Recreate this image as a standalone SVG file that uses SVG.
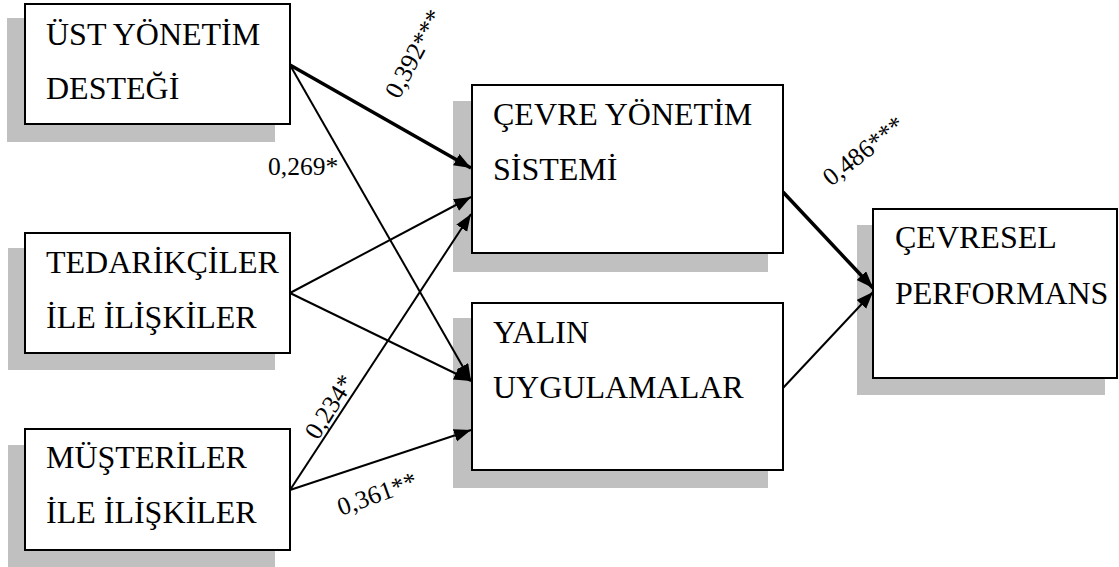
<svg xmlns="http://www.w3.org/2000/svg" width="1119" height="567" viewBox="0 0 1119 567">
  <style>
    .shadow { fill: #c0c0c0; stroke: none; }
    .box { fill: #ffffff; stroke: #000000; stroke-width: 2; }
    .lbl { font-family: "Liberation Serif", serif; font-size: 32px; fill: #000000; }
    .coef { font-family: "Liberation Serif", serif; font-size: 25.5px; fill: #000000; }
    .thin { stroke: #000000; stroke-width: 2; fill: none; marker-end: url(#arrow); }
    .thick { stroke: #000000; stroke-width: 3.5; fill: none; marker-end: url(#arrow); }
  </style>
  <defs>
    <marker id="arrow" markerUnits="userSpaceOnUse" markerWidth="19" markerHeight="14" refX="17" refY="6.5" orient="auto">
      <path d="M0,0 L17,6.5 L0,13 Z" fill="#000000"/>
    </marker>
  </defs>

  <!-- drop shadows -->
  <g id="shadows">
    <rect class="shadow" x="7" y="18" width="268" height="124"/>
    <rect class="shadow" x="8" y="248" width="267" height="122"/>
    <rect class="shadow" x="8" y="445" width="267" height="122"/>
    <rect class="shadow" x="453" y="101" width="315" height="171"/>
    <rect class="shadow" x="453" y="318" width="315" height="170"/>
    <rect class="shadow" x="857" y="225" width="248" height="170"/>
  </g>

  <!-- connectors -->
  <g id="connectors">
    <line class="thick" x1="290" y1="65" x2="471" y2="168"/>
    <line class="thin" x1="290" y1="65" x2="471" y2="381"/>
    <line class="thin" x1="290" y1="293" x2="471" y2="197"/>
    <line class="thin" x1="290" y1="293" x2="471" y2="381"/>
    <line class="thin" x1="290" y1="490" x2="471" y2="214"/>
    <line class="thin" x1="290" y1="490" x2="471" y2="430"/>
    <line class="thick" x1="783" y1="192" x2="873" y2="288"/>
    <line class="thin" x1="783" y1="388" x2="873" y2="292"/>
  </g>

  <!-- path coefficients -->
  <g id="coefficients">
    <text class="coef" transform="translate(399,100) rotate(-62)">0,392***</text>
    <text class="coef" x="268" y="175">0,269*</text>
    <text class="coef" transform="translate(318,441) rotate(-58)">0,234*</text>
    <text class="coef" transform="translate(341,516) rotate(-20)">0,361**</text>
    <text class="coef" transform="translate(831,187) rotate(-38)">0,486***</text>
  </g>

  <g id="ust-yonetim">
    <rect class="box" x="25" y="4" width="265" height="120"/>
    <text class="lbl" x="46" y="45">ÜST YÖNETİM</text>
    <text class="lbl" x="46" y="99">DESTEĞİ</text>
  </g>

  <g id="tedarikciler">
    <rect class="box" x="25" y="233" width="265" height="120"/>
    <text class="lbl" x="46" y="273">TEDARİKÇİLER</text>
    <text class="lbl" x="46" y="328">İLE İLİŞKİLER</text>
  </g>

  <g id="musteriler">
    <rect class="box" x="25" y="429" width="265" height="121"/>
    <text class="lbl" x="46" y="468">MÜŞTERİLER</text>
    <text class="lbl" x="46" y="523">İLE İLİŞKİLER</text>
  </g>

  <g id="cevre-yonetim">
    <rect class="box" x="472" y="85" width="311" height="168"/>
    <text class="lbl" x="493" y="125">ÇEVRE YÖNETİM</text>
    <text class="lbl" x="493" y="180">SİSTEMİ</text>
  </g>

  <g id="yalin">
    <rect class="box" x="472" y="303" width="311" height="167"/>
    <text class="lbl" x="493" y="343">YALIN</text>
    <text class="lbl" x="493" y="398">UYGULAMALAR</text>
  </g>

  <g id="cevresel-performans">
    <rect class="box" x="873" y="209" width="244" height="169"/>
    <text class="lbl" x="895" y="248">ÇEVRESEL</text>
    <text class="lbl" x="895" y="304">PERFORMANS</text>
  </g>
</svg>
